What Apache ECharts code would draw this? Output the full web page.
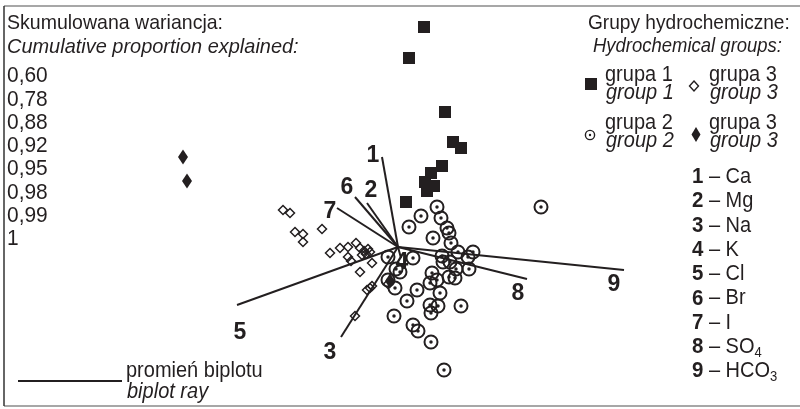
<!DOCTYPE html>
<html><head><meta charset="utf-8">
<script src="https://cdn.jsdelivr.net/npm/echarts@6/dist/echarts.min.js"></script>
<style>html,body{margin:0;padding:0;background:#fff}#c{width:800px;height:409px}</style>
</head><body><div id="c"></div>
<script>
// PCA scores (PC1, PC2)
const group1 = [[0.26,2.20],[0.11,1.89],[0.47,1.35],[0.55,1.05],[0.63,0.99],[0.44,0.81],[0.33,0.74],[0.27,0.65],[0.36,0.61],[0.29,0.56],[0.08,0.45]];
const group2 = [[0.39,0.40],[0.23,0.31],[0.43,0.29],[0.11,0.20],[0.49,0.19],[0.51,0.14],[0.35,0.09],[0.53,0.04],[0.60,-0.05],[0.75,-0.05],[0.70,-0.10],[0.15,-0.11],[0.44,-0.09],[0.45,-0.15],[0.52,-0.15],[0.58,-0.22],[0.71,-0.22],[0.34,-0.26],[0.39,-0.33],[0.51,-0.30],[0.57,-0.31],[0.32,-0.36],[0.19,-0.43],[0.42,-0.46],[0.09,-0.54],[0.32,-0.58],[0.40,-0.59],[0.63,-0.59],[0.33,-0.66],[-0.04,-0.69],[0.15,-0.78],[0.20,-0.84],[0.33,-0.95],[0.46,-1.23],[1.43,0.40],[-0.10,-0.10],[-0.02,-0.22],[0.02,-0.25],[-0.10,-0.33],[-0.03,-0.41]];
const group3open = [[-1.15,0.37],[-1.08,0.34],[-1.03,0.15],[-0.95,0.13],[-0.95,0.05],[-0.76,0.18],[-0.68,-0.06],[-0.58,-0.01],[-0.50,0.00],[-0.42,0.04],[-0.50,-0.10],[-0.47,-0.14],[-0.38,-0.25],[-0.26,-0.16],[-0.38,-0.01],[-0.34,-0.04],[-0.30,-0.02],[-0.32,-0.07],[-0.28,-0.05],[-0.36,-0.08],[-0.31,-0.43],[-0.28,-0.41],[-0.26,-0.39],[-0.43,-0.69],[-0.10,-0.37]];
const group3filled = [[-2.15,0.90],[-2.11,0.66],[-0.08,-0.34]];
// biplot rays (loadings)
const rayNames = ['1','2','3','4','5','6','7','8','9'];
const rayEnds = [[-0.16,0.90],[-0.31,0.44],[-0.57,-0.90],[0.03,-0.11],[-1.61,-0.58],[-0.43,0.50],[-0.61,0.39],[1.29,-0.32],[2.26,-0.23]];
const rayLabelPos = [[-0.25,0.91],[-0.27,0.56],[-0.68,-1.06],[0.04,-0.16],[-1.58,-0.86],[-0.51,0.59],[-0.68,0.35],[1.20,-0.47],[2.16,-0.38]];
const elements = ['Ca','Mg','Na','K','Cl','Br','I','SO','HCO'];
const elementSub = ['','','','','','','','4','3'];
const cumVar = ['0,60','0,78','0,88','0,92','0,95','0,98','0,99','1'];

const FF = "'Liberation Sans',Arial,sans-serif";
const TC = '#231f20';
const SX = 0.93;
const chart = echarts.init(document.getElementById('c'));

const graphics = [];
function txt(x, y, s, size, opts, sx) {
  graphics.push({type:'text', x:x, y:y, scaleX:(sx||SX), style:Object.assign({text:s, fontFamily:FF, fontSize:size, fill:TC, verticalAlign:'middle', align:'left'}, opts||{})});
}
// frame
graphics.push({type:'line', shape:{x1:4,y1:6,x2:800,y2:6}, style:{stroke:'#8a8a8a', lineWidth:1.5}});
graphics.push({type:'line', shape:{x1:4,y1:406,x2:800,y2:406}, style:{stroke:'#8a8a8a', lineWidth:1.5}});
graphics.push({type:'line', shape:{x1:4,y1:6,x2:4,y2:406}, style:{stroke:'#333', lineWidth:1.5}});
// left header
txt(7, 23, 'Skumulowana wariancja:', 21);
txt(7, 47, 'Cumulative proportion explained:', 21, {fontStyle:'italic'}, 0.95);
cumVar.forEach((v,i)=>txt(7, 76 + i*23.3, v, 22.5));
// right header
txt(588, 23, 'Grupy hydrochemiczne:', 21, null, 0.91);
txt(593, 46, 'Hydrochemical groups:', 21, {fontStyle:'italic'}, 0.88);
// legend entries
graphics.push({type:'rect', shape:{x:585,y:78,width:12,height:12}, style:{fill:TC}});
txt(605, 75, 'grupa 1', 21.5); txt(606, 93, 'group 1', 21.5, {fontStyle:'italic'});
graphics.push({type:'polygon', shape:{points:[[694,81],[698.5,86],[694,91],[689.5,86]]}, style:{fill:'#fff', stroke:TC, lineWidth:1.4}});
txt(709, 75, 'grupa 3', 21.5); txt(710, 93, 'group 3', 21.5, {fontStyle:'italic'});
graphics.push({type:'circle', shape:{cx:590,cy:135,r:4.6}, style:{fill:'none', stroke:TC, lineWidth:1.4}});
graphics.push({type:'circle', shape:{cx:590,cy:135,r:1.2}, style:{fill:TC}});
txt(605, 123, 'grupa 2', 21.5); txt(606, 141, 'group 2', 21.5, {fontStyle:'italic'});
graphics.push({type:'polygon', shape:{points:[[696,127],[700.5,134.5],[696,142],[691.5,134.5]]}, style:{fill:TC}});
txt(709, 123, 'grupa 3', 21.5); txt(710, 141, 'group 3', 21.5, {fontStyle:'italic'});
// element list
elements.forEach((e,i)=>{
  const y = 177 + i*24.3;
  graphics.push({type:'text', x:692, y:y, scaleX:SX, style:{
    text:'{b|'+rayNames[i]+'}{n| – '+e+'}' + (elementSub[i] ? '{s|'+elementSub[i]+'}' : ''),
    verticalAlign:'middle', align:'left',
    rich:{
      b:{fontFamily:FF, fontSize:22, fontWeight:'bold', fill:TC, color:TC},
      n:{fontFamily:FF, fontSize:21.5, fill:TC, color:TC},
      s:{fontFamily:FF, fontSize:14, fill:TC, color:TC, padding:[12,0,0,0]}
    }}});
});
// biplot ray legend
graphics.push({type:'line', shape:{x1:18,y1:381,x2:122,y2:381}, style:{stroke:TC, lineWidth:2}});
txt(126, 371, 'promień biplotu', 21.5);
txt(127, 392, 'biplot ray', 21.5, {fontStyle:'italic'});

const option = {
  animation:false,
  backgroundColor:'#fff',
  grid:{left:0,right:0,top:0,bottom:0},
  xAxis:{type:'value', min:-3.98, max:4.02, show:false},
  yAxis:{type:'value', min:-1.62, max:2.47, show:false},
  series:[
    {type:'lines', coordinateSystem:'cartesian2d', z:3,
     lineStyle:{color:TC, width:2, opacity:1},
     data: rayEnds.map(e=>({coords:[[0,0],e]}))},
    {type:'scatter', z:5, symbol:'circle', symbolSize:13,
     itemStyle:{color:'rgba(0,0,0,0)', borderColor:TC, borderWidth:2, opacity:1},
     data: group2},
    {type:'scatter', z:6, symbol:'circle', symbolSize:3.5,
     itemStyle:{color:TC, opacity:1}, data: group2},
    {type:'scatter', z:5, symbol:'diamond', symbolSize:[9,9],
     itemStyle:{color:'rgba(0,0,0,0)', borderColor:TC, borderWidth:1.5, opacity:1},
     data: group3open},
    {type:'scatter', z:6, symbol:'diamond', symbolSize:[10,15],
     itemStyle:{color:TC, opacity:1}, data: group3filled},
    {type:'scatter', z:6, symbol:'rect', symbolSize:12,
     itemStyle:{color:TC, opacity:1}, data: group1},
    {type:'scatter', z:7, symbolSize:1, silent:true,
     itemStyle:{opacity:0},
     label:{show:true, position:'inside', formatter:p=>p.name, fontFamily:FF, fontSize:23, fontWeight:'bold', color:TC, opacity:1},
     data: rayLabelPos.map((p,i)=>({name:rayNames[i], value:p}))}
  ],
  graphic: graphics
};
chart.setOption(option);
</script>
</body></html>
